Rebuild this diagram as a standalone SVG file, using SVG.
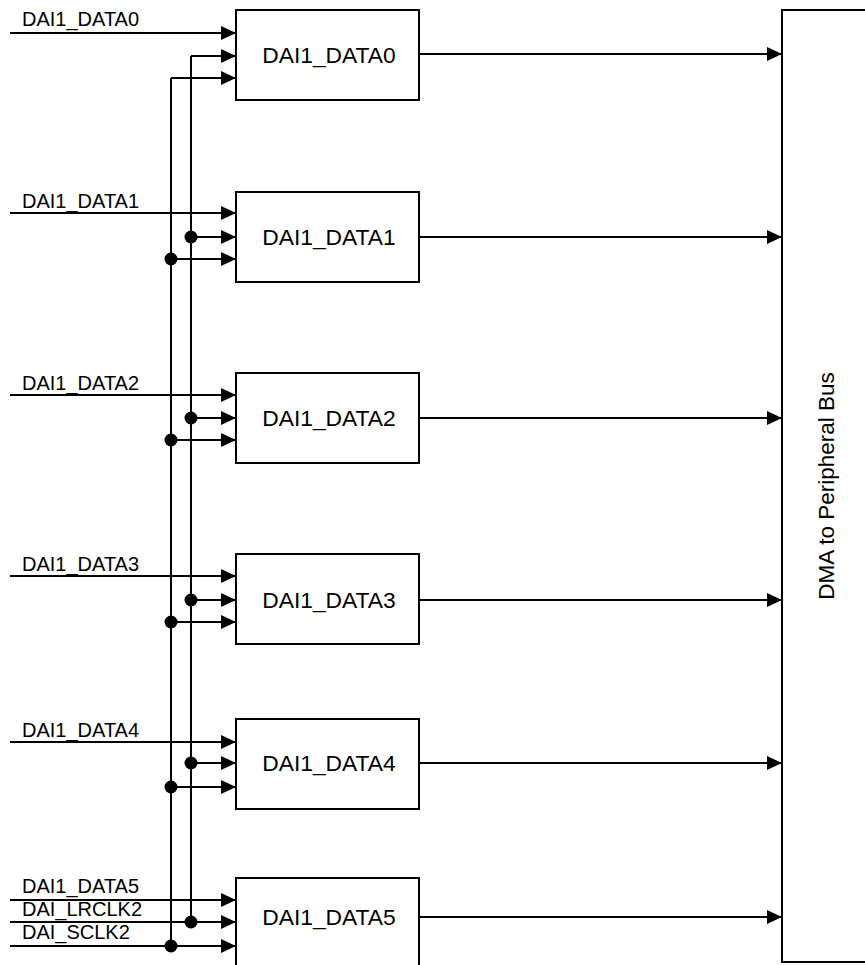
<svg xmlns="http://www.w3.org/2000/svg" width="865" height="965" viewBox="0 0 865 965">
<defs>
<marker id="arr" markerUnits="userSpaceOnUse" markerWidth="16" markerHeight="15" refX="15" refY="7" orient="auto"><path d="M0,0 L15,7 L0,14 z" fill="#000"/></marker>
<style>
.box{fill:#fff;stroke:#000;stroke-width:2}
.w{stroke:#000;stroke-width:2;fill:none}
.a{stroke:#000;stroke-width:2;fill:none;marker-end:url(#arr)}
.bl{font-family:"Liberation Sans",Arial,sans-serif;font-size:22.8px;fill:#000;text-anchor:middle}
.bt{font-family:"Liberation Sans",Arial,sans-serif;font-size:22.5px;fill:#000;text-anchor:middle}
.sl{font-family:"Liberation Sans",Arial,sans-serif;font-size:20px;fill:#000}
.d{fill:#000}
</style>
</defs>
<rect width="865" height="965" fill="#fff"/>
<g id="bus">
<rect class="box" x="782" y="10" width="100" height="952"/>
<text class="bt" transform="translate(834,486) rotate(-90)">DMA to Peripheral Bus</text>
</g>
<g id="node0"><rect class="box" x="236" y="10" width="183" height="90"/><text class="bl" x="329" y="63">DAI1_DATA0</text></g>
<g id="node1"><rect class="box" x="236" y="192" width="183" height="90"/><text class="bl" x="329" y="245">DAI1_DATA1</text></g>
<g id="node2"><rect class="box" x="236" y="373" width="183" height="90"/><text class="bl" x="329" y="426">DAI1_DATA2</text></g>
<g id="node3"><rect class="box" x="236" y="554" width="183" height="90"/><text class="bl" x="329" y="608">DAI1_DATA3</text></g>
<g id="node4"><rect class="box" x="236" y="719" width="183" height="90"/><text class="bl" x="329" y="771">DAI1_DATA4</text></g>
<g id="node5"><rect class="box" x="236" y="878" width="183" height="92"/><text class="bl" x="329" y="925">DAI1_DATA5</text></g>
<g id="labels">
<text class="sl" x="22" y="26">DAI1_DATA0</text>
<text class="sl" x="22" y="208">DAI1_DATA1</text>
<text class="sl" x="22" y="390">DAI1_DATA2</text>
<text class="sl" x="22" y="571">DAI1_DATA3</text>
<text class="sl" x="22" y="737">DAI1_DATA4</text>
<text class="sl" x="22" y="893">DAI1_DATA5</text>
<text class="sl" x="22" y="916">DAI_LRCLK2</text>
<text class="sl" x="22" y="939">DAI_SCLK2</text>
</g>
<g id="connectors">
<path class="w" d="M171,78 V946 M191,56 V922"/>
<path class="a" d="M10,33 H236"/>
<path class="a" d="M191,56 H236"/>
<path class="a" d="M171,78 H236"/>
<path class="a" d="M10,213 H236"/>
<path class="a" d="M191,237 H236"/>
<path class="a" d="M171,259 H236"/>
<path class="a" d="M10,395 H236"/>
<path class="a" d="M191,418 H236"/>
<path class="a" d="M171,440 H236"/>
<path class="a" d="M10,576 H236"/>
<path class="a" d="M191,600 H236"/>
<path class="a" d="M171,622 H236"/>
<path class="a" d="M10,742 H236"/>
<path class="a" d="M191,763 H236"/>
<path class="a" d="M171,787 H236"/>
<path class="a" d="M10,900 H236"/>
<path class="a" d="M10,922 H236"/>
<path class="a" d="M10,946 H236"/>
<path class="a" d="M419,54 H782"/>
<path class="a" d="M419,237 H782"/>
<path class="a" d="M419,418 H782"/>
<path class="a" d="M419,600 H782"/>
<path class="a" d="M419,763 H782"/>
<path class="a" d="M419,917 H782"/>
<circle class="d" cx="191" cy="237" r="6.5"/>
<circle class="d" cx="171" cy="259" r="6.5"/>
<circle class="d" cx="191" cy="418" r="6.5"/>
<circle class="d" cx="171" cy="440" r="6.5"/>
<circle class="d" cx="191" cy="600" r="6.5"/>
<circle class="d" cx="171" cy="622" r="6.5"/>
<circle class="d" cx="191" cy="763" r="6.5"/>
<circle class="d" cx="171" cy="787" r="6.5"/>
<circle class="d" cx="191" cy="922" r="6.5"/>
<circle class="d" cx="171" cy="946" r="6.5"/>
</g>
</svg>
